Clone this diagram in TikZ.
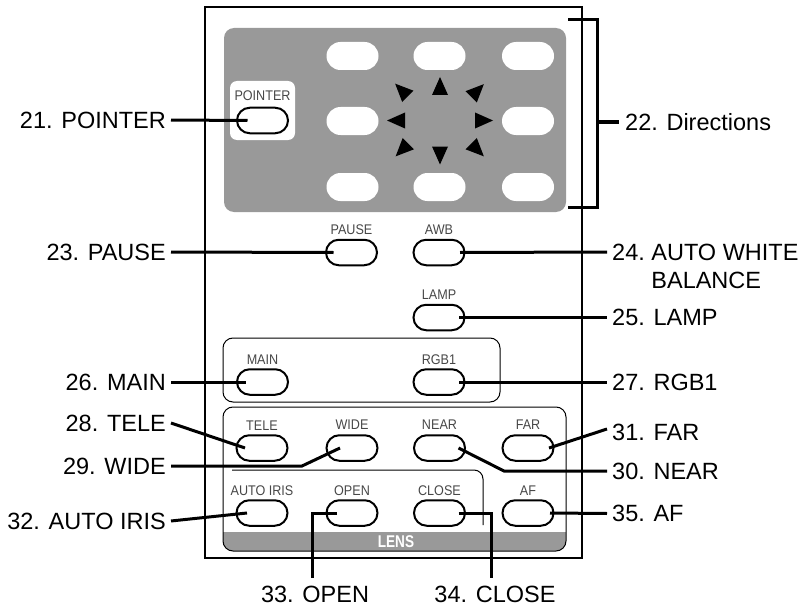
\documentclass[tikz,border=0pt]{standalone}
\usepackage{fontspec}
\setmainfont{Liberation Sans}
\newfontfamily\narrowfont[FakeStretch=0.9]{Liberation Sans}
\newfontfamily\lensfont[FakeStretch=0.8]{Liberation Sans}
\usetikzlibrary{calc,shapes.misc}
\definecolor{panel}{RGB}{153,153,153}
\tikzset{dtri/.pic={\fill (9,0) -- (-9,-8) -- (-9,8) -- cycle;}}
\begin{document}
\begin{tikzpicture}[x=1pt,y=-1pt,
  btn/.style={draw=black, line width=2pt, fill=white, rounded rectangle, minimum width=51pt, minimum height=25.5pt, inner sep=0pt},
  pill/.style={fill=white, rounded rectangle, minimum width=52pt, minimum height=28pt, inner sep=0pt},
  blbl/.style={font=\narrowfont\fontsize{14}{16}\selectfont, text=black!72, inner sep=0pt, text height=10pt, text depth=0pt},
  lab/.style={font=\fontsize{23.5}{28}\selectfont, inner sep=0pt, text height=16.8pt, text depth=0pt},
  lead/.style={line width=3pt},
  thinbox/.style={line width=1pt, rounded corners=10pt},
]
\useasboundingbox (0,0) rectangle (804,610);
% housing
\draw[line width=2pt] (205,7.5) rectangle (581.5,558);
\fill[panel, rounded corners=10pt] (224,28) rectangle (566,212);
\fill[white, rounded corners=7pt] (230,81) rectangle (295,140);
% direction pills
\node[pill] (d1) at (352.5,56) {};
\node[pill] (d2) at (439.5,56) {};
\node[pill] (d3) at (528,56) {};
\node[pill] (d4) at (352.5,121) {};
\node[pill] (d6) at (528,121) {};
\node[pill] (d7) at (352.5,187) {};
\node[pill] (d8) at (439.5,187) {};
\node[pill] (d9) at (528,187) {};
% arrows
\path (440,86) pic[rotate=90]{dtri};
\path (440,155.5) pic[rotate=-90]{dtri};
\path (396,120.5) pic[rotate=180]{dtri};
\path (484,120.5) pic[rotate=0]{dtri};
\path (401.5,90) pic[rotate=135]{dtri};
\path (477.5,90.5) pic[rotate=45]{dtri};
\path (402,150) pic[rotate=225]{dtri};
\path (477.5,150) pic[rotate=-45]{dtri};
% bracket
\draw[line width=3pt] (568,20) -- (597,20) -- (597,207) -- (568,207);
\coordinate (brk) at (597,122);
% grouped boxes
\draw[thinbox] (223,338) rectangle (500,402);
\begin{scope}
\clip[rounded corners=10pt] (223,407) rectangle (566,551);
\fill[panel] (223,532) rectangle (566,551);
\end{scope}
\draw[thinbox] (223,407) rectangle (566,551);
\draw[line width=1pt, rounded corners=9pt] (232,470) -- (483,470) -- (483,525);
\node[font=\lensfont\bfseries\fontsize{17}{19}\selectfont, text=white, inner sep=0pt] (lensT) at (396,542) {LENS};
% buttons
\node[btn] (ptr) at (262.5,120.5) {};
\node[blbl] (ptrT) at (262.5,95) {POINTER};
\node[btn] (pause) at (351.5,252.5) {};
\node[blbl] (pauseT) at (351.5,229) {PAUSE};
\node[btn] (awb) at (439,252.5) {};
\node[blbl] (awbT) at (439,229) {AWB};
\node[btn] (lamp) at (439,317.5) {};
\node[blbl] (lampT) at (439,294) {LAMP};
\node[btn] (main) at (262.5,382) {};
\node[blbl] (mainT) at (262.5,359) {MAIN};
\node[btn] (rgb) at (439,382) {};
\node[blbl] (rgbT) at (439,359) {RGB1};
\node[btn] (tele) at (262,448) {};
\node[blbl] (teleT) at (262,425) {TELE};
\node[btn] (wide) at (352,448) {};
\node[blbl] (wideT) at (352,424) {WIDE};
\node[btn] (near) at (439.5,448) {};
\node[blbl] (nearT) at (439.5,424) {NEAR};
\node[btn] (far) at (528,448) {};
\node[blbl] (farT) at (528,424) {FAR};
\node[btn] (iris) at (262,513) {};
\node[blbl] (irisT) at (262,490) {AUTO IRIS};
\node[btn] (openb) at (352,513) {};
\node[blbl] (openT) at (352,490) {OPEN};
\node[btn] (close) at (439.5,513) {};
\node[blbl] (closeT) at (439.5,490) {CLOSE};
\node[btn] (af) at (528,513) {};
\node[blbl] (afT) at (528,490) {AF};
% callout labels
\node[lab, anchor=east] (ptrL) at (166,120) {21. POINTER};
\node[lab, anchor=west] (dirL) at (625,122) {22. Directions};
\node[lab, anchor=east] (pauseL) at (166,252) {23. PAUSE};
\node[lab, anchor=west] (awbL) at (612,252) {\begin{tabular}[t]{@{}l@{\ }l@{}}24.&AUTO WHITE\\&BALANCE\end{tabular}};
\node[lab, anchor=west] (lampL) at (612,317.5) {25. LAMP};
\node[lab, anchor=east] (mainL) at (166,382) {26. MAIN};
\node[lab, anchor=west] (rgbL) at (612,382) {27. RGB1};
\node[lab, anchor=east] (teleL) at (166,423) {28. TELE};
\node[lab, anchor=east] (wideL) at (166,466) {29. WIDE};
\node[lab, anchor=west] (nearL) at (612,471) {30. NEAR};
\node[lab, anchor=west] (farL) at (612,432) {31. FAR};
\node[lab, anchor=east] (irisL) at (166,521) {32. AUTO IRIS};
\node[lab, anchor=north] (openL) at (315,585.6) {33. OPEN};
\node[lab, anchor=north] (closeL) at (495,585.6) {34. CLOSE};
\node[lab, anchor=west] (afL) at (612,513.5) {35. AF};
% leaders
\coordinate (wideK) at (302,466);
\coordinate (nearK) at (504,471);
\coordinate (openK) at (312,513);
\coordinate (closeK) at (491,513);
\draw[lead] ([xshift=5pt]ptrL.east) -- ([xshift=-15pt]ptr.center);
\draw[lead] (brk) -- ([xshift=-6pt]dirL.west);
\draw[lead] ([xshift=5pt]pauseL.east) -- ([xshift=-18pt]pause.center);
\draw[lead] ([xshift=21pt]awb.center) -- ([xshift=-5pt]awbL.west);
\draw[lead] ([xshift=20pt]lamp.center) -- ([xshift=-5pt]lampL.west);
\draw[lead] ([xshift=5pt]mainL.east) -- ([xshift=-17pt]main.center);
\draw[lead] ([xshift=20pt]rgb.center) -- ([xshift=-5pt]rgbL.west);
\draw[lead] ([xshift=5pt]teleL.east) -- ([xshift=-17pt]tele.center);
\draw[lead] ([xshift=5pt]wideL.east) -- (wideK) -- ([xshift=-12pt]wide.center);
\draw[lead] ([xshift=19pt]near.center) -- (nearK) -- ([xshift=-5pt]nearL.west);
\draw[lead] ([xshift=21pt]far.center) -- ([xshift=-5pt,yshift=3pt]farL.west);
\draw[lead] ([xshift=5pt]irisL.east) -- ([xshift=-15pt]iris.center);
\draw[lead] ([xshift=-15pt]openb.center) -- (openK) -- ($(openK |- openL.north)+(0,-8)$);
\draw[lead] ([xshift=19pt]close.center) -- (closeK) -- ($(closeK |- closeL.north)+(0,-8)$);
\draw[lead] ([xshift=22pt]af.center) -- ([xshift=-5pt]afL.west);
\end{tikzpicture}
\end{document}
